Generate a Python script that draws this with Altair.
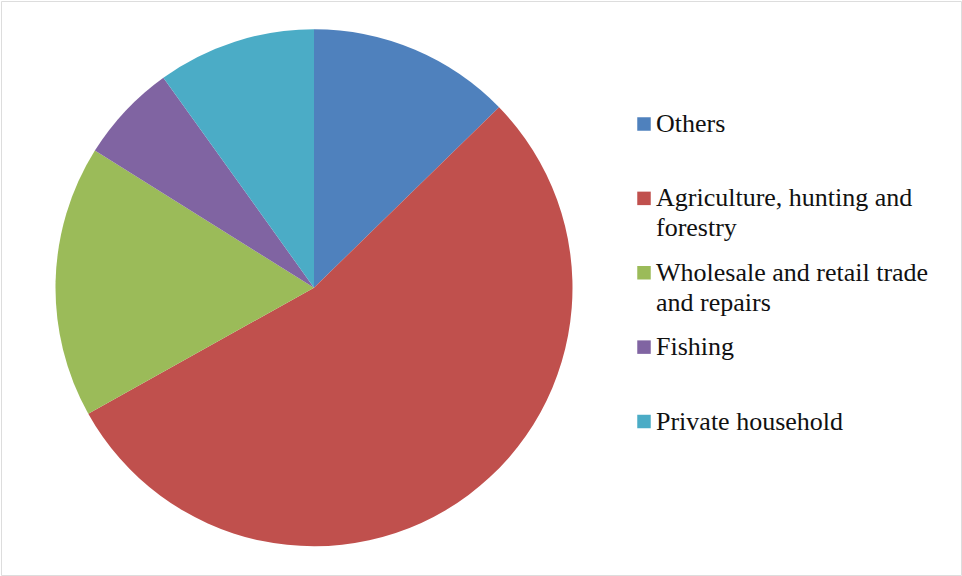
import altair as alt
import pandas as pd

categories = ["Others", "Agriculture, hunting and forestry",
              "Wholesale and retail trade and repairs", "Fishing", "Private household"]
shares = [12.7, 54.2, 17.0, 6.2, 9.9]
legend_labels = ["Others", "Agriculture, hunting and\nforestry",
                 "Wholesale and retail trade\nand repairs", "Fishing", "Private household"]
colors = ["#4F81BD", "#C0504D", "#9BBB59", "#8064A2", "#4BACC6"]

df = pd.DataFrame({
    "category": categories,
    "share": shares,
    "label": legend_labels,
    "idx": list(range(len(categories))),
})

color = alt.Color("category:N", scale=alt.Scale(domain=categories, range=colors), legend=None)

base = alt.Chart(df)

pie = base.mark_arc(outerRadius=258.5).encode(
    theta=alt.Theta("share:Q", stack=True),
    order=alt.Order("idx:Q"),
    color=color,
    x=alt.value(313),
    y=alt.value(286.75),
)

ypos = alt.Y("idx:Q", scale=alt.Scale(domain=[0, 4], range=[123, 420.5]), axis=None)

squares = base.mark_square(size=182, opacity=1).encode(
    x=alt.value(643),
    y=ypos,
    color=color,
)

texts = base.mark_text(align="left", baseline="alphabetic", dy=8, lineBreak="\n",
                       lineHeight=30, font="Liberation Serif", fontSize=26,
                       color="#111111").encode(
    x=alt.value(655),
    y=ypos,
    text="label:N",
)

chart = alt.layer(pie, squares, texts).properties(
    width=960, height=574,
    padding={"left": 1, "top": 1, "right": 1, "bottom": 1},
    autosize="none",
).configure_view(stroke="#8c8c8c", strokeWidth=1.5).configure(background="white")

chart.save("out.html", embed_options={"renderer": "svg", "actions": False})
